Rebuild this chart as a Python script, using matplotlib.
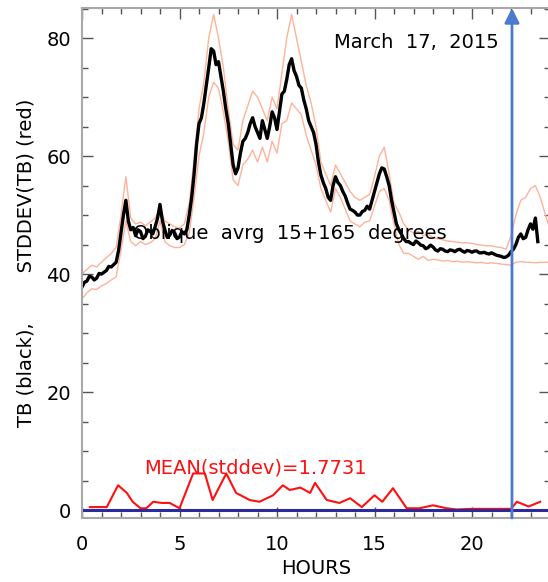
import numpy as np
import matplotlib
matplotlib.use("Agg")
import matplotlib.pyplot as plt
from matplotlib.ticker import MultipleLocator

# ---------------- data ----------------
# black curve sampled every 1/8 hour from 0 to 23.375 h
tb_mean = [37.8, 38.6, 38.8, 39.6, 39.5, 39.0, 39.3, 40.1,
           40.0, 40.3, 40.6, 41.3, 41.2, 41.6, 42.0, 44.0,
           47.0, 50.0, 52.5, 49.0, 47.5, 47.9, 46.5, 47.5,
           47.2, 46.0, 46.4, 47.5, 47.2, 46.8, 48.0, 49.5,
           51.8, 49.0, 47.5, 46.2, 46.6, 47.4, 47.0, 46.0,
           46.3, 47.2, 46.8, 47.5, 50.0, 53.0, 57.0, 62.0,
           65.5, 66.5, 69.0, 72.0, 75.0, 78.2, 77.8, 75.5,
           76.0, 73.5, 71.0, 68.0, 65.5, 62.0, 58.5, 57.0,
           58.0, 60.5, 62.5, 63.0, 64.0, 65.5, 66.5, 65.0,
           64.0, 63.0, 66.0, 64.5, 63.0, 65.0, 67.5, 66.5,
           64.5, 67.5, 70.5, 71.0, 73.0, 75.5, 76.5, 74.5,
           73.5, 72.0, 71.5, 69.5, 68.0, 66.0, 65.0, 64.0,
           62.0, 59.0, 56.8, 55.5, 54.5, 53.0, 52.5, 55.0,
           56.5, 55.5, 55.0, 54.0, 53.2, 52.0, 51.0, 50.8,
           50.5, 50.0, 50.0, 50.6, 50.8, 51.5, 51.0, 52.5,
           54.0, 55.5, 57.0, 58.0, 57.8, 56.5, 55.0, 52.5,
           50.5, 48.5, 47.5, 46.8, 46.0, 45.5, 45.5, 45.2,
           45.0, 45.6, 45.3, 44.9, 44.8, 44.3, 44.5, 44.9,
           44.6, 44.1, 43.9, 44.3, 44.2, 43.9, 43.8, 44.1,
           44.0, 43.8, 44.1, 44.2, 43.9, 43.7, 44.0, 43.9,
           43.7, 43.9, 43.9, 43.6, 43.6, 43.7, 43.5, 43.4,
           43.6, 43.4, 43.2, 43.1, 43.0, 42.8, 42.9, 43.2,
           43.8, 44.2, 45.0, 46.2, 46.8, 46.0, 46.2, 47.5,
           48.5, 47.6, 49.5, 45.5]
hours = np.arange(len(tb_mean)) * 0.125

band_hours = [0.00, 0.25, 0.50, 0.75, 1.00, 1.25, 1.50, 1.75, 2.00, 2.25, 2.50, 2.75,
              3.00, 3.25, 3.50, 3.75, 4.00, 4.25, 4.50, 4.75, 5.00, 5.25, 5.50, 5.75,
              6.00, 6.25, 6.50, 6.75, 7.00, 7.25, 7.50, 7.75, 8.00, 8.25, 8.50, 8.75,
              9.00, 9.25, 9.50, 9.75, 10.00, 10.25, 10.50, 10.75, 11.00, 11.25, 11.50, 11.75,
              12.00, 12.25, 12.50, 12.75, 13.00, 13.25, 13.50, 13.75, 14.00, 14.25, 14.50, 14.75,
              15.00, 15.25, 15.50, 15.75, 16.00, 16.25, 16.50, 16.75, 17.00, 17.25, 17.50, 17.75,
              18.00, 18.25, 18.50, 18.75, 19.00, 19.25, 19.50, 19.75, 20.00, 20.25, 20.50, 20.75,
              21.00, 21.25, 21.50, 21.75, 22.00, 22.25, 22.50, 22.75, 23.00, 23.25, 23.50, 23.90]

tb_upper = [40.0, 40.8, 41.5, 41.2, 42.0, 42.8, 43.5, 44.5, 50.0, 56.5, 49.5, 48.5,
            48.8, 48.2, 48.8, 49.5, 51.0, 49.0, 48.5, 48.0, 47.8, 48.5, 52.0, 59.5,
            68.0, 72.5, 80.0, 84.0, 80.0, 75.0, 68.0, 62.0, 61.0, 66.0, 68.5, 71.0,
            70.0, 68.0, 66.0, 70.0, 68.0, 74.0, 80.0, 84.0, 80.0, 76.0, 72.0, 69.0,
            65.0, 59.0, 57.0, 55.0, 58.5, 57.0, 55.5, 54.0, 53.0, 52.5, 53.0, 53.5,
            56.5, 60.0, 61.5, 57.0, 52.0, 50.5, 48.5, 47.5, 47.0, 47.2, 46.5, 46.8,
            46.2, 46.0, 45.8, 45.6, 45.5, 45.4, 45.3, 45.3, 45.2, 45.0, 44.9, 44.8,
            44.8, 44.6, 44.5, 44.2, 46.5, 50.0, 52.5, 53.0, 54.5, 55.0, 53.0, 48.6]

tb_lower = [35.8, 36.8, 37.5, 37.4, 38.0, 38.4, 39.0, 39.5, 44.0, 49.0, 45.5, 44.8,
            45.5, 45.0, 45.3, 46.0, 49.0, 45.5, 44.8, 44.5, 44.5, 45.0, 47.0, 53.0,
            60.0, 64.0, 70.0, 72.5, 71.5, 67.5, 62.5, 56.0, 55.0, 58.5, 59.5, 61.0,
            59.0, 61.5, 59.0, 62.5, 60.5, 65.5, 66.0, 69.0, 68.0, 67.0, 63.5, 61.0,
            58.5, 54.5, 52.5, 50.5, 54.5, 53.0, 51.0, 49.0, 48.5, 48.0, 48.8, 49.0,
            51.5, 54.0, 54.5, 52.5, 48.5, 45.0, 43.5, 43.5, 43.0, 42.5, 43.0, 42.3,
            42.5, 42.4, 42.2, 42.3, 42.1, 42.2, 42.0, 42.1, 42.0, 41.9, 42.0, 41.8,
            41.9, 41.8, 41.7, 41.6, 41.5, 42.0, 42.1, 42.0, 42.0, 41.9, 42.0, 42.0]

sd_hours = [0.40, 1.27, 1.85, 2.30, 2.60, 3.00, 3.30, 3.65, 4.10, 4.50, 5.00, 5.70,
            6.30, 6.70, 7.40, 7.90, 8.60, 9.10, 9.80, 10.30, 10.65, 11.20, 11.70, 11.95,
            12.55, 13.20, 13.75, 14.35, 15.00, 15.40, 15.95, 16.65, 17.30, 18.00, 18.70, 19.20,
            20.00, 21.00, 22.00, 22.30, 22.90, 23.50]
sd_values = [0.5, 0.5, 4.2, 2.9, 1.4, 0.3, 0.3, 1.4, 1.2, 1.2, 0.3, 6.2,
             6.2, 1.7, 6.2, 2.9, 1.7, 1.4, 2.5, 4.2, 3.4, 3.8, 2.9, 4.6,
             1.7, 1.2, 2.0, 0.5, 2.5, 1.4, 3.7, 0.3, 0.3, 0.8, 0.3, 0.1,
             0.2, 0.2, 0.2, 1.4, 0.6, 1.4]

event_hour = 22.05
title_text = "March  17,  2015"
note_text = "Oblique  avrg  15+165  degrees"
mean_text = "MEAN(stddev)=1.7731"

# ---------------- figure ----------------
plt.rcParams['font.family'] = ['DejaVu Sans']
fig = plt.figure(figsize=(5.48, 5.82), dpi=100)
ax = fig.add_axes([82/548, 64/582, (550-82)/548, (518-8)/582])

ax.plot(band_hours, tb_upper, color='#ffb29a', lw=1.0)
ax.plot(band_hours, tb_lower, color='#ffb29a', lw=1.0)
ax.plot(hours, tb_mean, color='black', lw=2.4)
ax.plot(sd_hours, sd_values, color='#ff1010', lw=1.5)
ax.axhline(0, color='#2b2b9e', lw=2.2)

ax.annotate('', xy=(event_hour, 85.1), xytext=(event_hour, -1.35),
            arrowprops=dict(arrowstyle='-|>', color='#4b7bd0', lw=2,
                            mutation_scale=22, shrinkA=0, shrinkB=0))

ax.text(12.9, 79.2, title_text, fontsize=14, va='center', ha='left')
ax.text(2.6, 46.8, note_text, fontsize=14, va='center', ha='left')
ax.text(3.2, 7.1, mean_text, fontsize=14, va='center', ha='left', color='#ff1010')

ax.set_xlim(0, 24)
ax.set_ylim(-1.35, 85.1)
ax.xaxis.set_major_locator(MultipleLocator(5))
ax.xaxis.set_minor_locator(MultipleLocator(1))
ax.yaxis.set_major_locator(MultipleLocator(20))
ax.yaxis.set_minor_locator(MultipleLocator(5))
ax.tick_params(which='both', direction='in', top=True, right=True,
               color='#555555', labelsize=14)
ax.tick_params(axis='x', which='both', pad=12)
ax.tick_params(axis='y', which='both', pad=8)
ax.tick_params(which='major', length=8, width=1)
ax.tick_params(which='minor', length=4.5, width=1)
for s in ax.spines.values():
    s.set_color('#a8a8a8')
    s.set_linewidth(1.5)

ax.set_xlabel('HOURS', fontsize=14, labelpad=4)
ax.set_ylabel('TB (black),        STDDEV(TB) (red)', fontsize=14, labelpad=8)

fig.savefig('out.png', dpi=100)
